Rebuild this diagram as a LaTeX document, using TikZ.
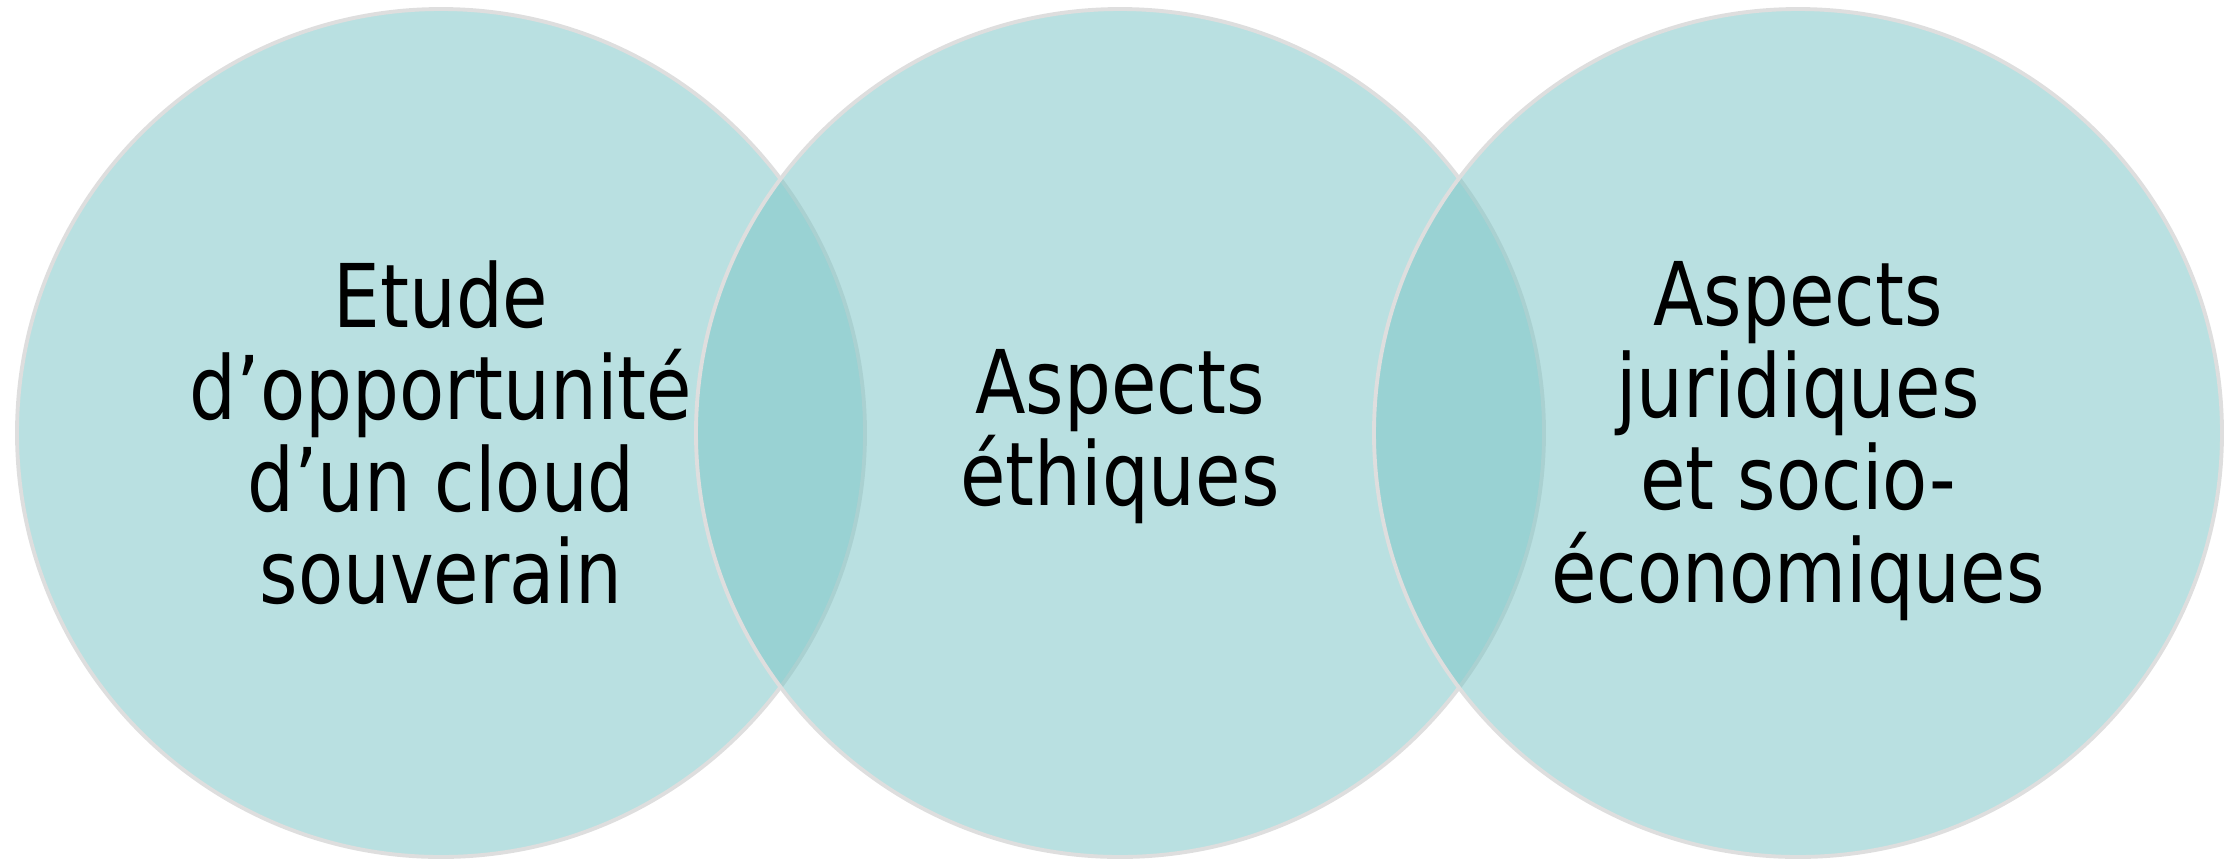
\documentclass[tikz,border=0pt]{standalone}
\usepackage{fontspec}
\setmainfont{DejaVu Sans}[FakeStretch=0.84]
\definecolor{bubblefill}{RGB}{126,198,199}
\definecolor{bubbleline}{RGB}{222,222,222}
\tikzset{
  bubble/.style={fill=bubblefill, fill opacity=0.54, draw=bubbleline, line width=1.1pt},
  label/.style={align=center, text opacity=1, font=\fontsize{25}{26.2}\selectfont, inner sep=0pt}
}
\begin{document}
\begin{tikzpicture}[x=0.01cm,y=0.01cm]
\useasboundingbox (0,0) rectangle (2239,859);
\draw[bubble] (441,426) circle [radius=424];
\draw[bubble] (1120,426) circle [radius=424];
\draw[bubble] (1798,426) circle [radius=424];
\node[label] (etude) at (441,426) {Etude\\d’opportunité\\d’un cloud\\souverain};
\node[label] (ethique) at (1120,422) {Aspects\\éthiques};
\node[label] (juridique) at (1798,418) {Aspects\\juridiques\\et socio-\\économiques};
\end{tikzpicture}
\end{document}
